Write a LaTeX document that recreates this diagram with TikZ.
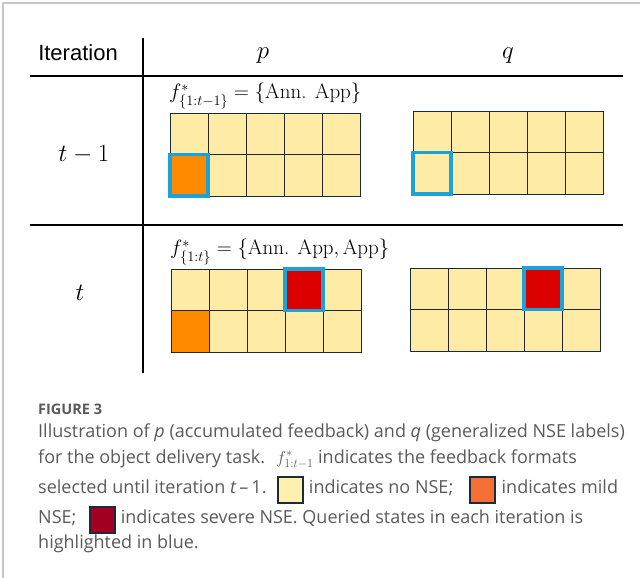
\documentclass[tikz,border=0pt]{standalone}
\usepackage{amsmath}
\usepackage{fontspec}
\setsansfont{Open Sans}
\newfontfamily\headfont{Liberation Sans}
\usepackage{tikz}
\usetikzlibrary{positioning}

\definecolor{cellyellow}{HTML}{FDEBA6}
\definecolor{mildorange}{HTML}{FF8A00}
\definecolor{severered}{HTML}{DC0000}
\definecolor{queryblue}{HTML}{1AA3D8}
\definecolor{framegray}{HTML}{C8C8C8}
\definecolor{captiongray}{HTML}{5A5A5A}
\definecolor{legyellow}{HTML}{FFF0B0}
\definecolor{legorange}{HTML}{F56E33}
\definecolor{legred}{HTML}{A30022}
\definecolor{legborder}{HTML}{1C2B36}

\newcommand{\stategrid}[3]{%
  \foreach \col in {1,...,5}
    \foreach \row in {1,2}
      \node[cell] (#1-\col-\row) at ({#2+38*(\col-0.5)},{#3+41.5*(\row-0.5)}) {};
  \draw[line width=.8pt, draw=legborder] (#1-1-1.north west) rectangle (#1-5-2.south east);
}

\begin{document}
\begin{tikzpicture}[x=1pt, y=-1pt, node distance=6pt, text depth=.1em, text height=.8em,
  cell/.style={rectangle, draw=black!85, line width=.8pt, fill=cellyellow, minimum width=38pt, minimum height=41.5pt, inner sep=0pt, outer sep=0pt},
  query/.style={draw=queryblue, line width=3.5pt},
  rule/.style={line width=1.6pt, black},
  formula/.style={font=\fontsize{21}{24}\selectfont, inner sep=0pt, text height=, text depth=},
  captext/.style={font=\sffamily\fontsize{18}{22}\selectfont, text=captiongray, inner sep=0pt, text depth=.22em, text height=.75em},
  legbox/.style={rectangle, draw=legborder, line width=2pt, minimum width=25pt, minimum height=26pt, inner sep=0pt}]
  \useasboundingbox (0,0) rectangle (640,578);
  \draw[framegray, line width=1.2pt] (3,578) -- (3,3) -- (640,3);

  \draw[rule] (30,76) -- (623,76);
  \draw[rule] (30,225) -- (623,225);
  \draw[rule] (143,38) -- (143,373);

  \node[font=\headfont\fontsize{22}{24}\selectfont] (iter) at (78,57) {Iteration};
  \node[font=\fontsize{24}{26}\selectfont] (phead) at (263,55) {$p$};
  \node[font=\fontsize{24}{26}\selectfont] (qhead) at (508,55) {$q$};
  \node[font=\fontsize{24}{26}\selectfont] (prevlabel) at (84,158) {$t-1$};
  \node[font=\fontsize{24}{26}\selectfont] (curlabel) at (80,297) {$t$};

  \stategrid{pprev}{170}{113}
  \stategrid{qprev}{413}{111}
  \stategrid{pcur}{171}{269}
  \stategrid{qcur}{410}{268}

  \node[formula, above right=4pt and -1pt of pprev-1-1.north west] (fprev) {$f^{*}_{\{1:t-1\}} = \{\text{Ann. App}\}$};
  \node[formula, above right=4pt and -1pt of pcur-1-1.north west] (fcur) {$f^{*}_{\{1:t\}} = \{\text{Ann. App}, \text{App}\}$};

  \draw[fill=mildorange, draw=black!85, line width=.8pt] (pprev-1-2.north west) rectangle (pprev-1-2.south east);
  \draw[fill=mildorange, draw=black!85, line width=.8pt] (pcur-1-2.north west) rectangle (pcur-1-2.south east);
  \draw[fill=severered, draw=black!85, line width=.8pt] (pcur-4-1.north west) rectangle (pcur-4-1.south east);
  \draw[fill=severered, draw=black!85, line width=.8pt] (qcur-4-1.north west) rectangle (qcur-4-1.south east);
  \draw[query] (pprev-1-2.north west) rectangle (pprev-1-2.south east);
  \draw[query] (qprev-1-2.north west) rectangle (qprev-1-2.south east);
  \draw[query] (pcur-4-1.north west) rectangle (pcur-4-1.south east);
  \draw[query] (qcur-4-1.north west) rectangle (qcur-4-1.south east);

  \node[captext, font=\sffamily\bfseries\fontsize{14.5}{16}\selectfont, anchor=base west] (figno) at (38,414) {FIGURE 3};
  \node[captext, anchor=base west] (capa) at (38,437) {Illustration of \textit{p} (accumulated feedback) and \textit{q} (generalized NSE labels)};
  \node[captext, anchor=base west] (capb) at (38,463) {for the object delivery task. \ $f^{*}_{1:t-1}$ indicates the feedback formats};
  \node[captext, anchor=base west] (capc) at (38,493) {selected until iteration \textit{t}\,–\,1.};
  \node[legbox, fill=legyellow, right=10pt of capc] (nobox) {};
  \node[captext, right=5pt of nobox] (capd) {indicates no NSE;};
  \node[legbox, fill=legorange, right=16pt of capd] (mildbox) {};
  \node[captext, right=5pt of mildbox] (cape) {indicates mild};
  \node[captext, anchor=base west] (capf) at (38,523) {NSE;};
  \node[legbox, fill=legred, right=12pt of capf] (severebox) {};
  \node[captext, right=5pt of severebox] (capg) {indicates severe NSE. Queried states in each iteration is};
  \node[captext, anchor=base west] (caph) at (38,548) {highlighted in blue.};
\end{tikzpicture}
\end{document}
